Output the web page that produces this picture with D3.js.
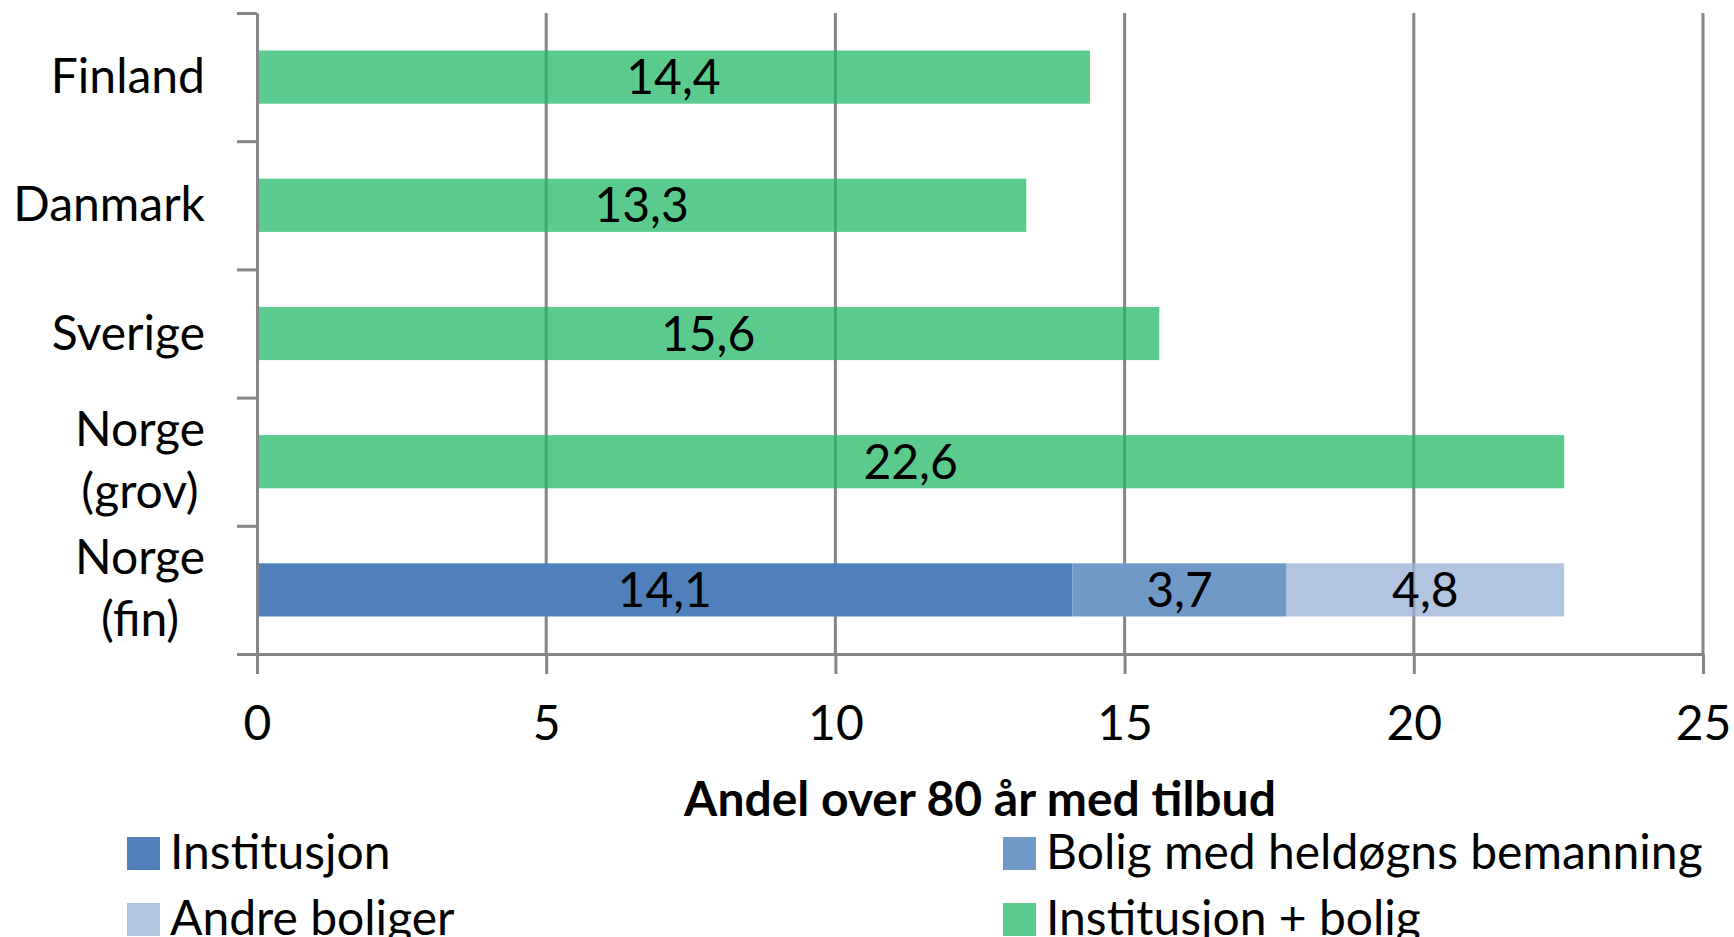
<!DOCTYPE html>
<html>
<head>
<meta charset="utf-8">
<script src="https://cdn.jsdelivr.net/npm/d3@7"></script>
<style>
  body { margin: 0; background: #fff; }
  text { font-family: Lato, "Open Sans", sans-serif; fill: #000; }
</style>
</head>
<body>
<div id="chart"></div>
<script>
// data
var categories = ["Finland", "Danmark", "Sverige", "Norge (grov)", "Norge (fin)"];
var institusjon = [0, 0, 0, 0, 14.1];
var boligHeldogns = [0, 0, 0, 0, 3.7];
var andreBoliger = [0, 0, 0, 0, 4.8];
var instPlusBolig = [14.4, 13.3, 15.6, 22.6, 0];
var xTicks = [0, 5, 10, 15, 20, 25];
var seriesNames = ["Institusjon", "Bolig med heldøgns bemanning", "Andre boliger", "Institusjon + bolig"];
var xTitle = "Andel over 80 år med tilbud";

var keys = ["inst", "bolig", "andre", "instbolig"];
var colors = {
  inst: "#4f80bb",
  bolig: "#7099c8",
  andre: "#97b2d6",
  instbolig: "#1eb864"
};
var opac = { inst: 1, bolig: 1, andre: 0.75, instbolig: 0.733 };
var legendColors = ["#4f80bb", "#7099c8", "#b1c5e0", "#5acb8d"];

var table = categories.map(function(c, i) {
  return { cat: c, inst: institusjon[i], bolig: boligHeldogns[i], andre: andreBoliger[i], instbolig: instPlusBolig[i] };
});

// plot box
var W = 1734, H = 937;
var pLeft = 257, pRight = 1703, pTop = 13, pBottom = 654;
var fs = 48;

var svg = d3.select("#chart").append("svg")
    .attr("width", W)
    .attr("height", H);

var x = d3.scaleLinear().domain([0, 25]).range([pLeft, pRight]);
var y = d3.scaleBand().domain(categories).range([pTop, pBottom])
    .paddingInner(0.585).paddingOuter(0.2925);
var yEdge = d3.scaleLinear().domain([0, categories.length]).range([pTop, pBottom]);

// gridlines
svg.append("g")
  .selectAll("line")
  .data(xTicks.slice(1))
  .enter().append("line")
    .attr("x1", function(d) { return x(d); })
    .attr("x2", function(d) { return x(d); })
    .attr("y1", pTop)
    .attr("y2", pBottom)
    .attr("stroke", "#868686")
    .attr("stroke-width", 3);

// stacked bars
var stack = d3.stack().keys(keys)(table);
svg.append("g")
  .selectAll("g")
  .data(stack)
  .enter().append("g")
    .attr("fill", function(d) { return colors[d.key]; })
    .attr("fill-opacity", function(d) { return opac[d.key]; })
  .selectAll("rect")
  .data(function(d) { return d.filter(function(p) { return p[1] - p[0] > 0; }); })
  .enter().append("rect")
    .attr("x", function(d) { return x(d[0]); })
    .attr("y", function(d) { return y(d.data.cat); })
    .attr("width", function(d) { return x(d[1]) - x(d[0]); })
    .attr("height", y.bandwidth());

// value labels
var fmt = function(v) { return d3.format(".1f")(v).replace(".", ","); };
var labelData = [];
stack.forEach(function(s) {
  s.forEach(function(p) {
    if (p[1] - p[0] > 0) labelData.push(p);
  });
});
svg.append("g")
  .selectAll("text")
  .data(labelData)
  .enter().append("text")
    .attr("x", function(d) { return x((d[0] + d[1]) / 2); })
    .attr("y", function(d) { return y(d.data.cat) + y.bandwidth() / 2 + 17; })
    .attr("text-anchor", "middle")
    .style("font-size", fs + "px")
    .text(function(d) { return fmt(d[1] - d[0]); });

// x axis
var xAxis = svg.append("g")
    .attr("transform", "translate(0," + pBottom + ")")
    .call(d3.axisBottom(x).tickValues(xTicks).tickSize(20).tickSizeOuter(0));
xAxis.selectAll("line").attr("stroke", "#868686").attr("stroke-width", 3);
xAxis.select(".domain").attr("stroke", "#868686").attr("stroke-width", 3);
xAxis.selectAll("text")
    .attr("y", 86).attr("dy", null)
    .style("font-size", fs + "px")
    .style("font-family", "Lato, sans-serif")
    .attr("fill", "#000");

// y axis (ticks between categories)
var yAxis = svg.append("g")
    .attr("transform", "translate(" + pLeft + ",0)")
    .call(d3.axisLeft(yEdge).ticks(categories.length).tickFormat("").tickSize(20).tickSizeOuter(0));
yAxis.selectAll("line").attr("stroke", "#868686").attr("stroke-width", 3);
yAxis.select(".domain").attr("stroke", "#868686").attr("stroke-width", 3);

// category labels: block right-aligned, lines centred within the block
var labelRight = 205;
var catG = svg.append("g");
categories.forEach(function(c) {
  var lines = c.split(" ");
  var cy = y(c) + y.bandwidth() / 2;
  var t = catG.append("text")
      .attr("text-anchor", "middle")
      .style("font-size", fs + "px");
  lines.forEach(function(l, i) {
    var base = lines.length === 1 ? cy + 16 : cy - 16 + i * 62;
    t.append("tspan").attr("y", base).text(l);
  });
  var maxW = 0;
  t.selectAll("tspan").each(function() { maxW = Math.max(maxW, this.getComputedTextLength()); });
  t.selectAll("tspan").attr("x", labelRight - maxW / 2);
});

// x axis title
svg.append("text")
    .attr("x", (pLeft + pRight) / 2)
    .attr("y", 816)
    .attr("text-anchor", "middle")
    .style("font-size", fs + "px")
    .style("font-weight", "bold")
    .text(xTitle);

// legend
var legPos = [[127, 837], [1003, 837], [127, 903], [1003, 903]];
var leg = svg.append("g")
  .selectAll("g")
  .data(seriesNames)
  .enter().append("g")
    .attr("transform", function(d, i) { return "translate(" + legPos[i][0] + "," + legPos[i][1] + ")"; });
leg.append("rect")
    .attr("width", 33)
    .attr("height", 33)
    .attr("fill", function(d, i) { return legendColors[i]; });
leg.append("text")
    .attr("x", 43)
    .attr("y", 32)
    .style("font-size", fs + "px")
    .text(function(d) { return d; });
</script>
</body>
</html>
